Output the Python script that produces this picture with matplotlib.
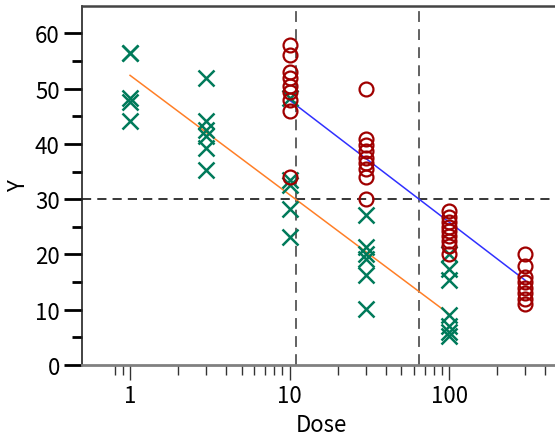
import numpy as np
import matplotlib
matplotlib.use("Agg")
import matplotlib.pyplot as plt
from matplotlib.ticker import FixedLocator, NullFormatter

plt.rcParams['font.family'] = ['Noto Sans CJK JP', 'DejaVu Sans']

# Series A (green crosses)
a_dose = [1]*5 + [3]*6 + [10]*5 + [30]*6 + [100]*7
a_y = [56.5, 56.5, 48.3, 47.5, 44.2,
       52.0, 44.2, 42.5, 41.5, 39.2, 35.2,
       48.3, 33.5, 32.5, 28.3, 23.2,
       27.2, 21.4, 20.0, 19.2, 16.3, 10.1,
       20.0, 17.4, 15.3, 9.0, 7.0, 6.0, 5.3]

# Series B (red circles)
b_dose = [10]*9 + [30]*9 + [100]*9 + [300]*8
b_y = [57.8, 56.0, 53.0, 52.0, 50.5, 49.3, 48.0, 46.0, 34.0,
       50.0, 40.8, 39.8, 38.8, 37.5, 36.5, 35.5, 34.0, 30.0,
       27.8, 26.8, 25.8, 25.0, 24.2, 23.3, 22.4, 21.5, 20.0,
       20.0, 18.0, 16.0, 15.0, 14.0, 13.0, 12.0, 11.0]

# Fitted lines
fit_a_dose = [1, 100]
fit_a_y = [52.4, 9.2]
fit_b_dose = [10, 300]
fit_b_y = [47.9, 15.3]

threshold = 30
y_ticks = [0, 10, 20, 30, 40, 50, 60]
y_minor = [5, 15, 25, 35, 45, 55]
x_ticks = [1, 10, 100]
x_ticklabels = ['1', '10', '100']
x_minor = [0.8, 0.9, 2, 3, 4, 5, 6, 7, 8, 9,
           20, 30, 40, 50, 60, 70, 80, 90, 200, 300, 400]

fig = plt.figure(figsize=(5.55, 4.39), dpi=100)
ax = fig.add_axes([82/555, 73/439, 478.8/555, 359.3/439])

ax.plot(a_dose, a_y, linestyle='none', marker='x', markersize=11,
        markeredgewidth=1.8, color='#007a5a', zorder=3)
ax.plot(b_dose, b_y, linestyle='none', marker='o', markersize=10,
        markerfacecolor='none', markeredgewidth=1.6, color='#a00000', zorder=3)

ax.plot(fit_a_dose, fit_a_y, color='#ff7f27', lw=1.1, zorder=2)
ax.plot(fit_b_dose, fit_b_y, color='#3030ff', lw=1.1, zorder=2)

def cross(xs, ys, level):
    lx = np.log10(xs)
    return 10**np.interp(level, ys[::-1], lx[::-1])

xa30 = cross(np.array(fit_a_dose, float), np.array(fit_a_y), threshold)
xb30 = cross(np.array(fit_b_dose, float), np.array(fit_b_y), threshold)
ax.axhline(threshold, color='black', lw=1.1, ls=(0, (6, 4)), zorder=1)
ax.axvline(xa30, color='#555555', lw=1.3, ls=(0, (6, 4)), zorder=1)
ax.axvline(xb30, color='#555555', lw=1.3, ls=(0, (6, 4)), zorder=1)

ax.set_xscale('log')
ax.set_xlim(0.5, 500)
ax.set_ylim(0, 65)
ax.set_xticks(x_ticks)
ax.set_xticklabels(x_ticklabels)
ax.xaxis.set_minor_locator(FixedLocator(x_minor))
ax.xaxis.set_minor_formatter(NullFormatter())
ax.set_yticks(y_ticks)
ax.yaxis.set_minor_locator(FixedLocator(y_minor))

ax.tick_params(axis='y', which='major', length=13, width=2, labelsize=16, pad=3)
ax.tick_params(axis='y', which='minor', length=7, width=2)
ax.tick_params(axis='x', which='major', length=11, width=1, labelsize=16, pad=3, color='#333333')
ax.tick_params(axis='x', which='minor', length=7, width=1, color='#333333')

ax.spines['left'].set_linewidth(1.2)
ax.spines['left'].set_color('#222222')
ax.spines['bottom'].set_color('#808080')
ax.spines['bottom'].set_linewidth(2)
ax.spines['top'].set_color('#444444')
ax.spines['top'].set_linewidth(1.8)

ax.set_xlabel('Dose', fontsize=16, labelpad=4)
fig.text(19/555, 1 - 186/439, 'Y', fontsize=16, rotation=90,
         ha='center', va='center')

fig.savefig('out.png', dpi=100)
